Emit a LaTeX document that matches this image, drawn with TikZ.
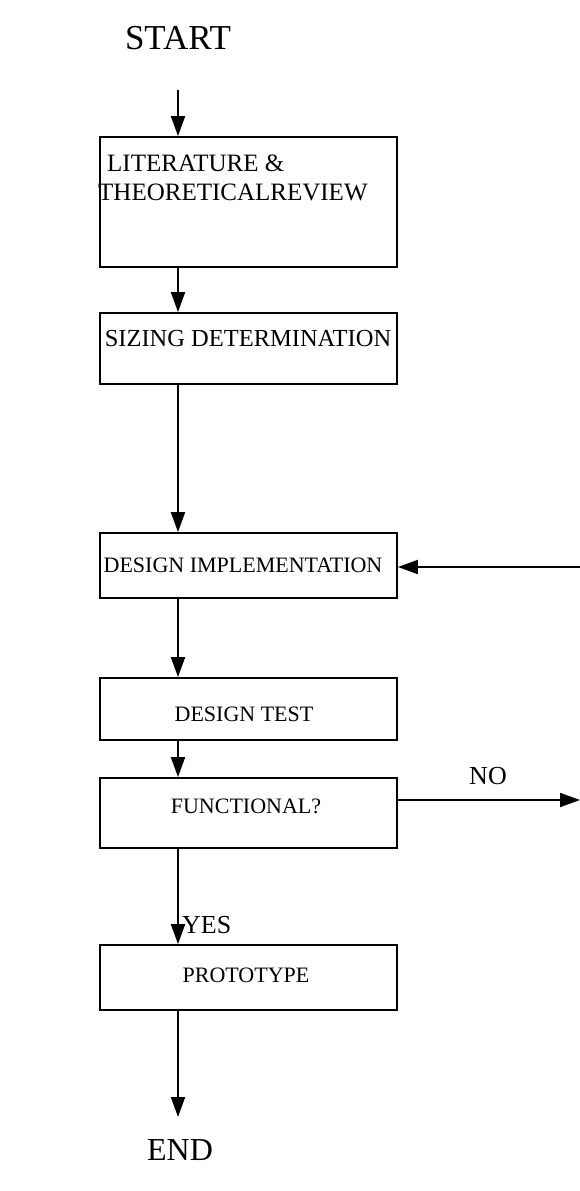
\documentclass[tikz,border=0pt]{standalone}
\usepackage{fontspec}
\setmainfont{Liberation Serif}
\usetikzlibrary{arrows.meta}

\begin{document}
\begin{tikzpicture}[x=1pt,y=-1pt,
  stepbox/.style={draw,line width=1.8pt,minimum width=297pt,inner sep=0pt},
  boxtext/.style={font=\fontsize{22}{29}\selectfont,inner sep=0pt},
  endtext/.style={font=\fontsize{32}{36}\selectfont,inner sep=0pt},
  flow/.style={line width=1.9pt,-{Triangle[length=20pt,width=14pt]}}]
  \useasboundingbox (0,0) rectangle (580,1191);
  % start and first box
  \node[endtext,font=\fontsize{35}{38}\selectfont] (start) at (178,38) {START};
  \coordinate (startarr) at (178,90);
  \node[stepbox,minimum height=130pt] (lit) at (248.5,202) {};
  \node[boxtext,font=\fontsize{25}{29}\selectfont,align=left,anchor=west] (littext) at (98,178) {\hspace{9pt}LITERATURE \&\\THEORETICALREVIEW};
  \draw[flow] (startarr) -- (startarr |- lit.north);
  % sizing
  \node[stepbox,minimum height=71pt] (size) at (248.5,348.5) {};
  \node[boxtext,font=\fontsize{24.5}{29}\selectfont] (sizetext) at (248,339) {SIZING DETERMINATION};
  \draw[flow] (lit.south -| start) -- (size.north -| start);
  % implementation
  \node[stepbox,minimum height=65pt] (impl) at (248.5,565.5) {};
  \node[boxtext] (impltext) at (243,565) {DESIGN IMPLEMENTATION};
  \draw[flow] (size.south -| start) -- (impl.north -| start);
  % test
  \node[stepbox,minimum height=62pt] (test) at (248.5,709) {};
  \node[boxtext] (testtext) at (244,714) {DESIGN TEST};
  \draw[flow] (impl.south -| start) -- (test.north -| start);
  % functional
  \node[stepbox,minimum height=70pt] (func) at (248.5,813) {};
  \node[boxtext] (functext) at (246,806) {FUNCTIONAL?};
  \draw[flow] (test.south -| start) -- (func.north -| start);
  % prototype
  \node[stepbox,minimum height=65pt] (proto) at (248.5,977.5) {};
  \node[boxtext] (prototext) at (246,975) {PROTOTYPE};
  \draw[flow] (func.south -| start) -- (proto.north -| start);
  \node[boxtext,font=\fontsize{26}{30}\selectfont,anchor=west] (yes) at (182,925) {YES};
  % end
  \node[endtext] (end) at (180,1150) {END};
  \coordinate (endarr) at (178,1117);
  \draw[flow] (proto.south -| start) -- (endarr);
  % loop back
  \coordinate (back) at (580,567);
  \draw[flow] (back) -- (back -| impl.east);
  \coordinate (noend) at (580,800);
  \draw[flow] (noend -| func.east) -- (noend);
  \node[boxtext,font=\fontsize{26}{30}\selectfont] (no) at (488,776) {NO};
\end{tikzpicture}
\end{document}
